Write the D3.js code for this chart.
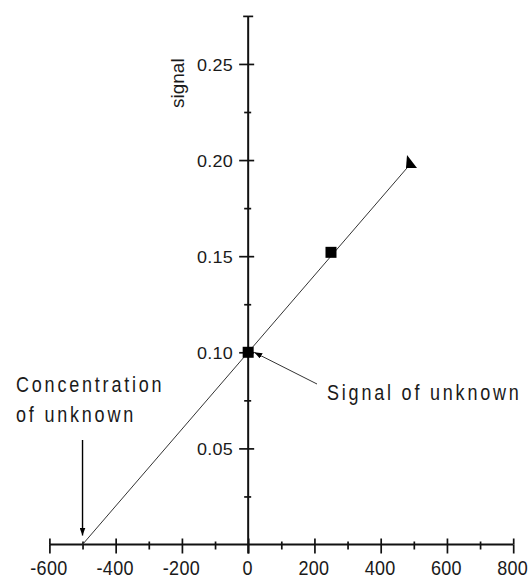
<!DOCTYPE html>
<html>
<head>
<meta charset="utf-8">
<script src="https://cdn.jsdelivr.net/npm/d3@7"></script>
<style>
  html, body { margin: 0; padding: 0; background: #fff; }
  svg { display: block; }
  text { font-family: "Liberation Sans", Arial, sans-serif; fill: #1a1a1a; }
</style>
</head>
<body>
<svg id="chart" width="531" height="579"></svg>
<script>
// Standard-addition calibration: measured standards and the extrapolated fit
const stdX = [0, 250, 490];
const stdY = [0.100, 0.152, 0.198];
const stdShape = ["square", "square", "triangle"];

// Fitted line: signal = fitIntercept + fitSlope * x, drawn across fitX
const fitSlope = 0.0002;
const fitIntercept = 0.1;
const fitX = [-500, 490];

// Axis ticks
const xMajor = [-600, -400, -200, 0, 200, 400, 600, 800];
const xMinor = [-500, -300, -100, 100, 300, 500, 700];
const yMajor = [0.05, 0.10, 0.15, 0.20, 0.25];
const yMinor = [0.025, 0.075, 0.125, 0.175, 0.225];
const yTop = [0.275];

// Annotation texts
const yTitle = "signal";
const unknownConcLines = ["Concentration", "of unknown"];
const unknownSignalText = "Signal of unknown";

const svg = d3.select("#chart");
const x = d3.scaleLinear().domain([-600, 800]).range([49.4, 513.2]);
const y = d3.scaleLinear().domain([0, 0.275]).range([544.5, 15.9]);

const ink = "#111";

// ---- X axis ----
const gx = svg.append("g").attr("transform", `translate(0,${y(0)})`);
const addX = (axis) => {
  const g = gx.append("g").call(axis);
  g.select(".domain").remove();
  g.selectAll(".tick line").attr("stroke", ink).attr("stroke-width", 1.7);
  return g;
};
const xLab = addX(d3.axisBottom(x).tickValues(xMajor).tickSize(9).tickFormat(d => String(d)));
addX(d3.axisTop(x).tickValues(xMajor).tickSize(6).tickFormat(""));
addX(d3.axisBottom(x).tickValues(xMinor).tickSize(5).tickFormat(""));
addX(d3.axisTop(x).tickValues(xMinor).tickSize(3).tickFormat(""));
xLab.selectAll(".tick text")
  .attr("x", 0).attr("y", 0).attr("dy", 0)
  .attr("transform", "translate(-1,30) scale(1,1.1)")
  .style("font-size", "18px")
  .style("letter-spacing", "0.3px")
  .attr("fill", "#1a1a1a");
gx.append("line")
  .attr("x1", x(-600)).attr("x2", x(800))
  .attr("stroke", ink).attr("stroke-width", 2);

// ---- Y axis ----
const gy = svg.append("g").attr("transform", `translate(${x(0)},0)`);
const addY = (axis) => {
  const g = gy.append("g").call(axis);
  g.select(".domain").remove();
  g.selectAll(".tick line").attr("stroke", ink).attr("stroke-width", 1.7);
  return g;
};
const yLab = addY(d3.axisLeft(y).tickValues(yMajor).tickSize(9).tickFormat(d3.format(".2f")));
addY(d3.axisRight(y).tickValues(yMajor).tickSize(6).tickFormat(""));
addY(d3.axisLeft(y).tickValues(yMinor).tickSize(4).tickFormat(""));
addY(d3.axisRight(y).tickValues(yMinor).tickSize(3).tickFormat(""));
addY(d3.axisLeft(y).tickValues(yTop).tickSize(5).tickFormat(""));
addY(d3.axisRight(y).tickValues(yTop).tickSize(5).tickFormat(""));
yLab.selectAll(".tick text")
  .attr("x", 0).attr("y", 0).attr("dy", "0.36em")
  .attr("text-anchor", "end")
  .attr("transform", "translate(-15,0) scale(1,0.95)")
  .style("font-size", "18px")
  .style("letter-spacing", "0.3px")
  .attr("fill", "#1a1a1a");
gy.append("line")
  .attr("y1", y(0.275)).attr("y2", y(0) + 9)
  .attr("stroke", ink).attr("stroke-width", 2);

// Y title, rotated
svg.append("text")
  .attr("transform", `translate(184,${y(0.24)}) rotate(-90)`)
  .attr("text-anchor", "middle")
  .style("font-size", "19px")
  .text(yTitle);

// ---- Fitted line ----
const line = d3.line().x(d => x(d)).y(d => y(fitIntercept + fitSlope * d));
svg.append("path")
  .datum(fitX)
  .attr("d", line)
  .attr("fill", "none")
  .attr("stroke", "#333")
  .attr("stroke-width", 1);

// ---- Standards ----
const pts = stdX.map((v, i) => ({ x: v, y: stdY[i], shape: stdShape[i] }));
svg.selectAll("g.pt").data(pts).join("g")
  .attr("class", "pt")
  .attr("transform", d => `translate(${x(d.x)},${y(d.y)})`)
  .each(function (d) {
    const g = d3.select(this);
    if (d.shape === "square") {
      g.append("rect").attr("x", -5.5).attr("y", -5.5)
        .attr("width", 11).attr("height", 11).attr("fill", "#000");
    } else {
      g.append("path").attr("d", "M-3.5,-9 L-4.5,4 L6.5,4 Z").attr("fill", "#000");
    }
  });

// ---- Annotations ----
const defs = svg.append("defs");
defs.append("marker")
  .attr("id", "head").attr("viewBox", "0 0 8 6")
  .attr("refX", 8).attr("refY", 3)
  .attr("markerWidth", 8).attr("markerHeight", 6)
  .attr("markerUnits", "userSpaceOnUse")
  .attr("orient", "auto")
  .append("path").attr("d", "M0,0 L8,3 L0,6 Z").attr("fill", "#000");

const textStyle = (sel) => sel
  .style("font-size", "18px")
  .style("letter-spacing", "2.8px");

// Concentration of unknown -> x-intercept
unknownConcLines.forEach((t, i) => {
  svg.append("text")
    .attr("transform", `translate(16,${391.5 + i * 30}) scale(1,1.25)`)
    .call(textStyle)
    .text(t);
});
svg.append("line")
  .attr("x1", x(-500)).attr("y1", 440)
  .attr("x2", x(-500)).attr("y2", y(0) - 9)
  .attr("stroke", "#000").attr("stroke-width", 1.4)
  .attr("marker-end", "url(#head)");

// Signal of unknown -> y-intercept point
svg.append("text")
  .attr("transform", `translate(327,400) scale(1,1.25)`)
  .call(textStyle)
  .text(unknownSignalText);
svg.append("line")
  .attr("x1", 317).attr("y1", 384)
  .attr("x2", x(0) + 6).attr("y2", y(0.1))
  .attr("stroke", "#333").attr("stroke-width", 1)
  .attr("marker-end", "url(#head)");
</script>
</body>
</html>
